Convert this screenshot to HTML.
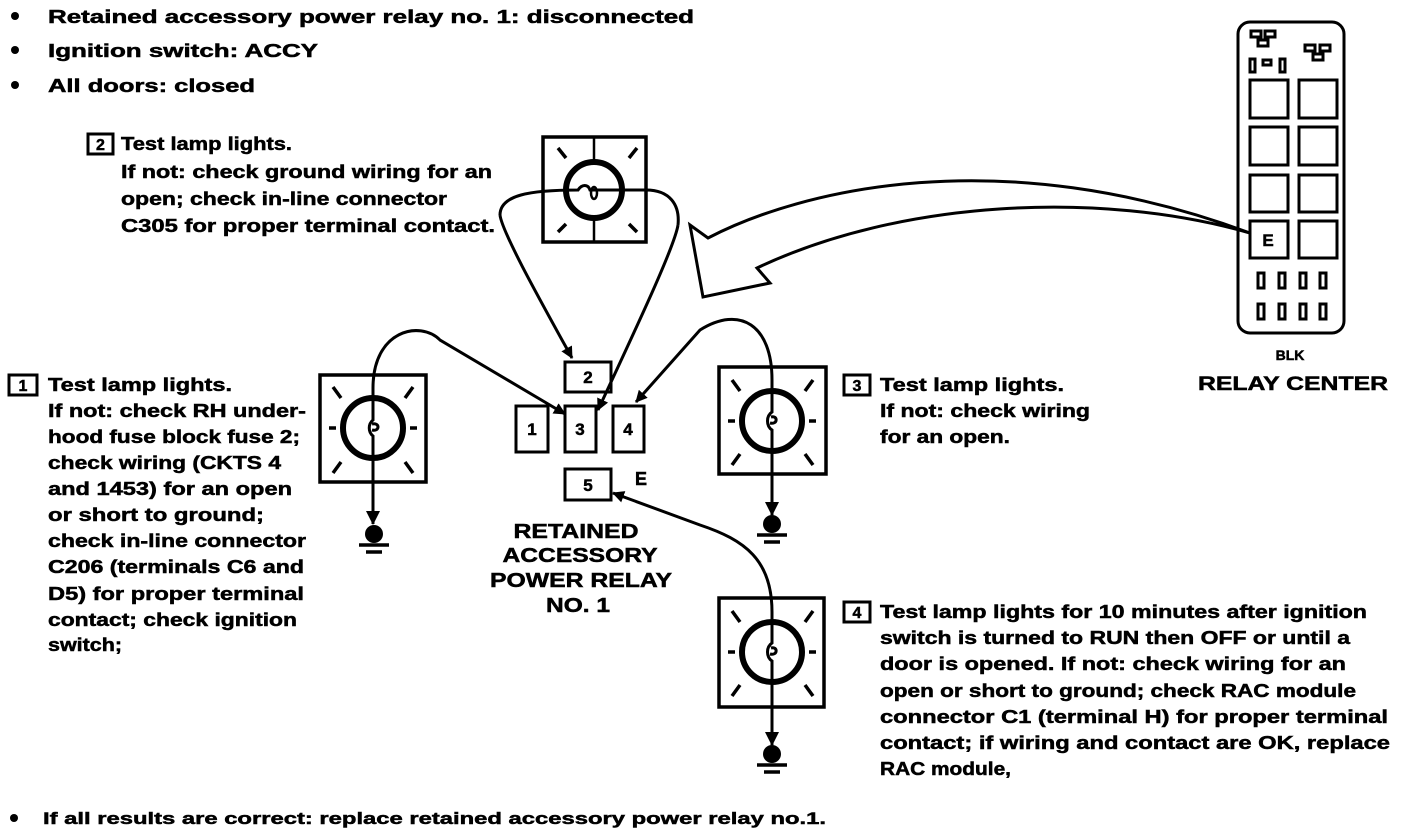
<!DOCTYPE html>
<html><head><meta charset="utf-8"><style>
html,body{margin:0;padding:0;background:#fff;}
svg{display:block;}
text{font-family:"Liberation Sans",sans-serif;font-weight:bold;fill:#000;stroke:#000;stroke-width:0.5px;}
</style></head><body>
<svg width="1408" height="834" viewBox="0 0 1408 834" xmlns="http://www.w3.org/2000/svg">
<defs>
<marker id="ah" markerWidth="12" markerHeight="12" refX="11" refY="6" orient="auto" markerUnits="userSpaceOnUse">
<path d="M0,0 L12,6 L0,12 z" fill="#000"/></marker>
<marker id="ah2" markerWidth="14" markerHeight="16" refX="13" refY="8" orient="auto" markerUnits="userSpaceOnUse">
<path d="M0,1 L14,8 L0,15 z" fill="#000"/></marker>
</defs>
<g font-size="18">
<circle cx="15" cy="16" r="4"/><circle cx="15" cy="50" r="4"/><circle cx="15" cy="85" r="4"/>
<text x="48" y="23" textLength="646" lengthAdjust="spacingAndGlyphs">Retained accessory power relay no. 1: disconnected</text>
<text x="48" y="57" textLength="270" lengthAdjust="spacingAndGlyphs">Ignition switch: ACCY</text>
<text x="48" y="92" textLength="207" lengthAdjust="spacingAndGlyphs">All doors: closed</text>

<rect x="88" y="134" width="25" height="20" fill="none" stroke="#000" stroke-width="3"/>
<text x="100.5" y="150" text-anchor="middle" font-size="16">2</text>
<text x="121" y="150" textLength="171" lengthAdjust="spacingAndGlyphs">Test lamp lights.</text>
<text x="121" y="178" textLength="371" lengthAdjust="spacingAndGlyphs">If not: check ground wiring for an</text>
<text x="121" y="205" textLength="326" lengthAdjust="spacingAndGlyphs">open; check in-line connector</text>
<text x="121" y="232" textLength="374" lengthAdjust="spacingAndGlyphs">C305 for proper terminal contact.</text>

<rect x="9" y="375" width="28" height="20" fill="none" stroke="#000" stroke-width="3"/>
<text x="23" y="391" text-anchor="middle" font-size="16">1</text>
<text x="48" y="391" textLength="184" lengthAdjust="spacingAndGlyphs">Test lamp lights.</text>
<text x="48" y="417" textLength="258" lengthAdjust="spacingAndGlyphs">If not: check RH under-</text>
<text x="48" y="443" textLength="252" lengthAdjust="spacingAndGlyphs">hood fuse block fuse 2;</text>
<text x="48" y="469" textLength="233" lengthAdjust="spacingAndGlyphs">check wiring (CKTS 4</text>
<text x="48" y="495" textLength="244" lengthAdjust="spacingAndGlyphs">and 1453) for an open</text>
<text x="48" y="521" textLength="216" lengthAdjust="spacingAndGlyphs">or short to ground;</text>
<text x="48" y="547" textLength="258" lengthAdjust="spacingAndGlyphs">check in-line connector</text>
<text x="48" y="573" textLength="256" lengthAdjust="spacingAndGlyphs">C206 (terminals C6 and</text>
<text x="48" y="600" textLength="256" lengthAdjust="spacingAndGlyphs">D5) for proper terminal</text>
<text x="48" y="626" textLength="249" lengthAdjust="spacingAndGlyphs">contact; check ignition</text>
<text x="48" y="651" textLength="74" lengthAdjust="spacingAndGlyphs">switch;</text>

<rect x="844" y="375" width="26" height="20" fill="none" stroke="#000" stroke-width="3"/>
<text x="857" y="391" text-anchor="middle" font-size="16">3</text>
<text x="880" y="391" textLength="184" lengthAdjust="spacingAndGlyphs">Test lamp lights.</text>
<text x="880" y="417" textLength="210" lengthAdjust="spacingAndGlyphs">If not: check wiring</text>
<text x="880" y="443" textLength="130" lengthAdjust="spacingAndGlyphs">for an open.</text>

<rect x="844" y="602" width="26" height="20" fill="none" stroke="#000" stroke-width="3"/>
<text x="857" y="618" text-anchor="middle" font-size="16">4</text>
<text x="880" y="618" textLength="487" lengthAdjust="spacingAndGlyphs">Test lamp lights for 10 minutes after ignition</text>
<text x="880" y="644" textLength="470" lengthAdjust="spacingAndGlyphs">switch is turned to RUN then OFF or until a</text>
<text x="880" y="670" textLength="466" lengthAdjust="spacingAndGlyphs">door is opened. If not: check wiring for an</text>
<text x="880" y="697" textLength="476" lengthAdjust="spacingAndGlyphs">open or short to ground; check RAC module</text>
<text x="880" y="723" textLength="508" lengthAdjust="spacingAndGlyphs">connector C1 (terminal H) for proper terminal</text>
<text x="880" y="749" textLength="510" lengthAdjust="spacingAndGlyphs">contact; if wiring and contact are OK, replace</text>
<text x="880" y="775" textLength="131" lengthAdjust="spacingAndGlyphs">RAC module,</text>

<circle cx="14" cy="818" r="4"/>
<text x="43" y="824" font-size="17" textLength="783" lengthAdjust="spacingAndGlyphs">If all results are correct: replace retained accessory power relay no.1.</text>
</g>

<g font-size="20" text-anchor="middle">
<text x="576" y="538" textLength="125" lengthAdjust="spacingAndGlyphs">RETAINED</text>
<text x="580" y="562" textLength="155" lengthAdjust="spacingAndGlyphs">ACCESSORY</text>
<text x="581" y="587" textLength="182" lengthAdjust="spacingAndGlyphs">POWER RELAY</text>
<text x="578" y="612" textLength="64" lengthAdjust="spacingAndGlyphs">NO. 1</text>
</g>
<text x="1290" y="360" font-size="14" text-anchor="middle">BLK</text>
<text x="1293" y="390" font-size="19" text-anchor="middle" textLength="190" lengthAdjust="spacingAndGlyphs">RELAY CENTER</text>

<g fill="none" stroke="#000" stroke-width="3">
<rect x="565" y="362" width="46" height="30"/>
<rect x="516" y="406" width="32" height="46"/>
<rect x="565" y="406" width="31" height="46"/>
<rect x="613" y="406" width="31" height="46"/>
<rect x="565" y="469" width="46" height="31"/>
</g>
<g font-size="17" text-anchor="middle">
<text x="588" y="383">2</text><text x="532" y="435">1</text><text x="580" y="435">3</text><text x="628" y="435">4</text><text x="588" y="491">5</text>
<text x="641" y="485" font-size="18">E</text>
</g>

<g fill="none" stroke="#000" stroke-width="3">
<rect x="1238" y="22" width="106" height="311" rx="12"/>
<rect x="1250" y="80" width="38" height="38"/><rect x="1299" y="80" width="38" height="38"/>
<rect x="1250" y="127" width="38" height="38"/><rect x="1299" y="127" width="38" height="38"/>
<rect x="1250" y="175" width="38" height="37"/><rect x="1299" y="175" width="38" height="37"/>
<rect x="1250" y="221" width="38" height="37"/><rect x="1299" y="221" width="38" height="37"/>
<rect x="1258" y="273" width="6" height="15"/><rect x="1279" y="273" width="6" height="15"/><rect x="1300" y="273" width="6" height="15"/><rect x="1320" y="273" width="6" height="15"/>
<rect x="1258" y="304" width="6" height="15"/><rect x="1279" y="304" width="6" height="15"/><rect x="1300" y="304" width="6" height="15"/><rect x="1320" y="304" width="6" height="15"/>
<rect x="1251" y="31" width="10" height="6"/><rect x="1265" y="31" width="10" height="6"/><rect x="1258" y="40" width="10" height="6"/>
<rect x="1250" y="59" width="5" height="13"/><rect x="1263" y="60" width="8" height="5"/><rect x="1280" y="59" width="5" height="13"/>
<rect x="1305" y="45" width="10" height="6"/><rect x="1320" y="45" width="10" height="6"/><rect x="1313" y="54" width="10" height="6"/>
</g>
<text x="1268" y="246" font-size="17" text-anchor="middle">E</text>

<path d="M690,225 L708,238 C800,190 1000,140 1250,233 C1100,190 900,200 757,268 L770,283 L703,297 Z" fill="none" stroke="#000" stroke-width="3"/>

<g fill="none" stroke="#000">
<rect x="543" y="137" width="103" height="105" stroke-width="3.5"/>
<line x1="594" y1="137" x2="594" y2="162" stroke-width="2.5"/><line x1="594" y1="218" x2="594" y2="242" stroke-width="2.5"/>
<circle cx="594" cy="190" r="28" stroke-width="6"/>
<path d="M500,215 C500,195 530,190 578,190 C582,184 588,184 590,190 L646,190 C670,190 680,205 678,225" stroke-width="3"/>
<ellipse cx="594" cy="193" rx="3" ry="6" stroke-width="2.5"/>
<path d="M500,215 C502,232 540,300 572,358" stroke-width="3" marker-end="url(#ah)"/>
<path d="M678,225 C675,245 640,320 598,410" stroke-width="3" marker-end="url(#ah)"/>
<g stroke-width="3.5"><line x1="558" y1="148" x2="566" y2="158"/><line x1="637" y1="148" x2="629" y2="158"/><line x1="558" y1="232" x2="566" y2="224"/><line x1="637" y1="232" x2="629" y2="224"/></g>

<rect x="320" y="375" width="106" height="107" stroke-width="3.5"/>
<circle cx="373" cy="428" r="30" stroke-width="6"/>
<g stroke-width="3.5"><line x1="333" y1="387" x2="341" y2="398"/><line x1="413" y1="387" x2="405" y2="398"/><line x1="333" y1="473" x2="341" y2="462"/><line x1="413" y1="473" x2="405" y2="462"/><line x1="329" y1="428" x2="336" y2="428"/><line x1="410" y1="428" x2="417" y2="428"/></g>
<path d="M373,388 C373,330 420,320 440,340 L565,414" stroke-width="3" marker-end="url(#ah)"/>
<path d="M373,388 L373,420 C368,424 368,432 373,436 L373,524" stroke-width="3" marker-end="url(#ah2)"/>
<path d="M372,424 C380,422 380,432 372,430" stroke-width="3"/>

<rect x="719" y="367" width="107" height="107" stroke-width="3.5"/>
<circle cx="772" cy="421" r="30" stroke-width="6"/>
<g stroke-width="3.5"><line x1="732" y1="380" x2="740" y2="391"/><line x1="813" y1="380" x2="805" y2="391"/><line x1="732" y1="465" x2="740" y2="454"/><line x1="813" y1="465" x2="805" y2="454"/><line x1="728" y1="421" x2="735" y2="421"/><line x1="809" y1="421" x2="816" y2="421"/></g>
<path d="M772,380 C772,325 740,305 700,330 L636,402" stroke-width="3" marker-end="url(#ah)"/>
<path d="M772,380 L772,412 C766,416 766,426 772,430 L772,515" stroke-width="3" marker-end="url(#ah2)"/>
<path d="M771,417 C778,415 778,425 770,423" stroke-width="3"/>

<rect x="719" y="598" width="105" height="109" stroke-width="3.5"/>
<circle cx="772" cy="652" r="30" stroke-width="6"/>
<g stroke-width="3.5"><line x1="732" y1="611" x2="740" y2="622"/><line x1="813" y1="611" x2="805" y2="622"/><line x1="732" y1="696" x2="740" y2="685"/><line x1="813" y1="696" x2="805" y2="685"/><line x1="728" y1="652" x2="735" y2="652"/><line x1="809" y1="652" x2="816" y2="652"/></g>
<path d="M772,612 C772,560 745,540 700,525 L613,493" stroke-width="3" marker-end="url(#ah)"/>
<path d="M772,612 L772,643 C766,647 766,657 772,661 L772,745" stroke-width="3" marker-end="url(#ah2)"/>
<path d="M771,648 C778,646 778,656 770,654" stroke-width="3"/>
</g>

<g fill="#000" stroke="#000" stroke-width="3.5">
<circle cx="374" cy="534" r="9" stroke="none"/><line x1="359" y1="545" x2="389" y2="545"/><line x1="366" y1="552" x2="382" y2="552"/>
<circle cx="772" cy="524" r="9" stroke="none"/><line x1="757" y1="535" x2="787" y2="535"/><line x1="764" y1="542" x2="780" y2="542"/>
<circle cx="772" cy="754" r="9" stroke="none"/><line x1="757" y1="765" x2="787" y2="765"/><line x1="764" y1="772" x2="780" y2="772"/>
</g>
</svg>
</body></html>
